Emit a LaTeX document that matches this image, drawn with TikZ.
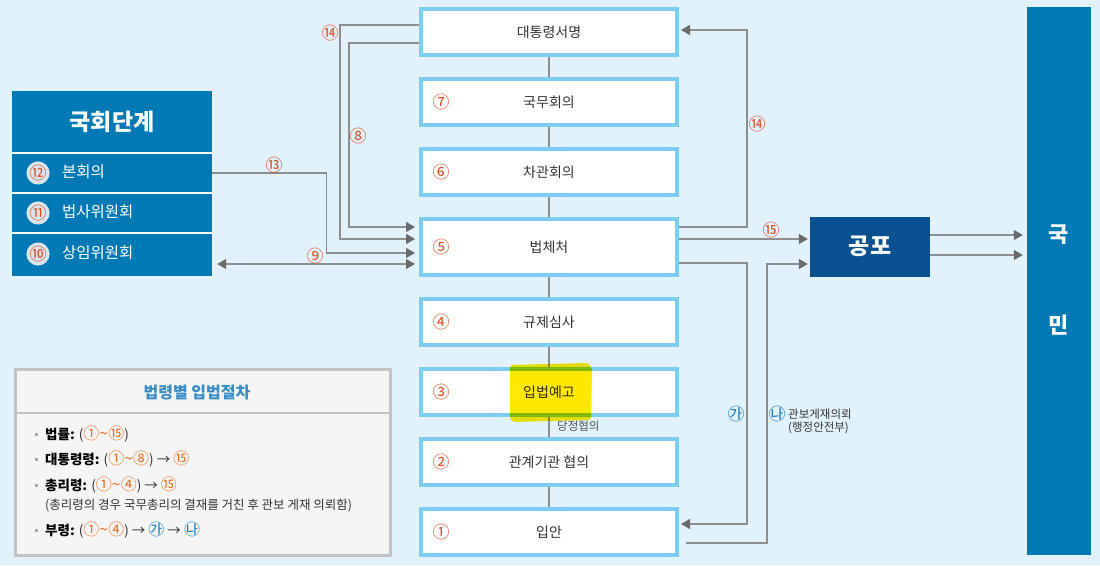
\documentclass[tikz,border=0pt]{standalone}
\usepackage{fontspec}
\setmainfont{Noto Sans CJK KR}
\usetikzlibrary{arrows.meta}
\definecolor{bg}{HTML}{E2F2FC}
\definecolor{bxb}{HTML}{7ECCF1}
\definecolor{dblue}{HTML}{0079B4}
\definecolor{navy}{HTML}{0A5192}
\definecolor{numred}{HTML}{E5461C}
\definecolor{lng}{HTML}{8E8E8E}
\definecolor{arg}{HTML}{6A6A6A}
\definecolor{lgb}{HTML}{C3C3C3}
\definecolor{lgf}{HTML}{F5F5F5}
\definecolor{lgt}{HTML}{3A8DC4}
\definecolor{numblue}{HTML}{1C7EC0}
\definecolor{txt}{HTML}{333333}
\definecolor{hl}{HTML}{FFE800}
\definecolor{disc}{HTML}{D8E5ED}
\definecolor{numor}{HTML}{F26B1D}
\tikzset{
  stepbox/.style={draw=bxb, line width=4pt, fill=white, minimum width=256pt,
    minimum height=46pt, inner sep=0pt, font=\fontsize{14}{16}\selectfont, text=txt},
  conn/.style={draw=lng, line width=1.3pt},
  arr/.style={-{Triangle[length=9pt,width=10pt,color=arg]}},
  darr/.style={{Triangle[length=9pt,width=10pt,color=arg]}-{Triangle[length=9pt,width=10pt,color=arg]}},
  num/.style={text=numred, font=\fontsize{17}{19}\selectfont, inner sep=0pt},
  rowbox/.style={fill=dblue, minimum width=200pt, minimum height=40pt, inner sep=0pt},
  rowtxt/.style={text=white, font=\fontsize{15.5}{17}\selectfont, anchor=west, inner sep=0pt},
  disknum/.style={circle, fill=disc, minimum size=21pt, inner sep=0pt, text=numred, font=\fontsize{17}{19}\selectfont},
  lgitem/.style={anchor=west, inner sep=0pt, font=\fontsize{13.5}{15}\selectfont, text=black},
  bul/.style={fill=gray!70, minimum size=3pt, inner sep=0pt},
}
\newcommand{\on}[1]{{\color{numor}\mdseries\fontsize{16}{17}\selectfont #1}}
\newcommand{\bn}[1]{{\color{numblue}\mdseries\fontsize{16}{17}\selectfont #1}}
\newcommand{\gp}[1]{{\color{txt}\mdseries #1}}
\begin{document}
\begin{tikzpicture}[x=1pt,y=-1pt]
\fill[bg] (0,0) rectangle (1100,565);
\useasboundingbox (0,0) rectangle (1100,565);

% central steps
\node[stepbox] (s1) at (549,32) {대통령서명};
\node[stepbox] (s2) at (549,102) {국무회의};
\node[stepbox] (s3) at (549,172) {차관회의};
\node[stepbox, minimum height=56pt] (s5) at (549,247) {법체처};
\node[stepbox] (s6) at (549,322) {규제심사};
\node[stepbox] (s7) at (549,392) {입법예고};
\node[stepbox] (s8) at (549,462) {관계기관 협의};
\node[stepbox] (s9) at (549,532) {입안};

\node[num] (n7) at (441,102) {⑦};
\node[num] (n6) at (441,172) {⑥};
\node[num] (n5) at (441,247) {⑤};
\node[num] (n4) at (441,322) {④};
\node[num] (n3) at (441,392) {③};
\node[num] (n2) at (441,462) {②};
\node[num] (n1) at (441,532) {①};

\foreach \a/\b in {s1/s2,s2/s3,s3/s5,s5/s6,s6/s7,s7/s8,s8/s9}
  \draw[conn] (\a.south) -- (\b.north);

\node[anchor=west, inner sep=0pt, text=txt!85, font=\fontsize{11.5}{13}\selectfont] (dj) at (557,426) {당정협의};

% 국회단계
\node[rowbox, minimum height=62pt] (ht) at (112,122) {};
\node[text=white, font=\fontsize{23}{25}\selectfont\bfseries] (htt) at (112,122) {국회단계};
\node[rowbox] (r12) at (112,173) {};
\node[rowbox] (r11) at (112,213) {};
\node[rowbox, minimum height=43pt] (r10) at (112,254.5) {};
\draw[white, line width=1.3pt] (12,153) -- (212,153) (12,193) -- (212,193) (12,233) -- (212,233);
\node[disknum] (d12) at (38,173) {⑫};
\node[disknum] (d11) at (38,213) {⑪};
\node[disknum] (d10) at (38,254) {⑩};
\node[rowtxt] (t12) at (62,172) {본회의};
\node[rowtxt] (t11) at (62,212) {법사위원회};
\node[rowtxt] (t10) at (62,253) {상임위원회};

% 공포, 국민
\node[fill=navy, minimum width=120pt, minimum height=60pt, inner sep=0pt] (gp) at (870,247) {};
\node[text=white, font=\fontsize{23}{25}\selectfont\bfseries] (gpt) at (870,246) {공포};
\node[fill=dblue, minimum width=64pt, minimum height=548pt, inner sep=0pt] (km) at (1059,281) {};
\node[text=white, font=\fontsize{22}{24}\selectfont\bfseries] (k1) at (1059,235) {국};
\node[text=white, font=\fontsize{22}{24}\selectfont\bfseries] (k2) at (1059,325) {민};

% left connectors
\draw[conn, arr, shorten >=4pt] ([yshift=7pt]s1.west) -- ++(-79,0) |- ([yshift=8pt]s5.west);
\draw[conn, arr, shorten >=4pt] ([yshift=-11pt]s1.west) -- ++(-70,0) |- ([yshift=20pt]s5.west);
\draw[conn, arr, shorten >=4pt] (r12.east) -- ++(114,0) |- ([yshift=-6pt]s5.west);
\coordinate (k9) at ([yshift=-17pt]s5.west);
\draw[conn, darr, shorten >=4pt, shorten <=5pt] (k9 -| r10.east) -- (k9);
\node[num] (l14a) at (330,33) {⑭};
\node[num] (l8) at (358,136) {⑧};
\node[num] (l13) at (274,165) {⑬};
\node[num] (l9) at (315,256) {⑨};

% right connectors
\draw[conn, arr, shorten >=2pt] ([yshift=20pt]s5.east) -- ++(68,0) |- ([yshift=2pt]s1.east);
\coordinate (k15) at ([yshift=8pt]s5.east);
\draw[conn, arr, shorten >=2pt] (k15) -- (k15 -| gp.west);
\draw[conn, arr, shorten >=2pt] ([yshift=-16pt]s5.east) -- ++(68,0) |- ([yshift=8pt]s9.east);
\draw[conn, arr, shorten >=2pt] ([xshift=7pt,yshift=-11pt]s9.east) -- ++(81,0) |- ([yshift=-17pt]gp.west);
\coordinate (g1) at ([yshift=12pt]gp.east);
\coordinate (g2) at ([yshift=-8pt]gp.east);
\draw[conn, arr, shorten >=4pt] (g1) -- (g1 -| km.west);
\draw[conn, arr, shorten >=4pt] (g2) -- (g2 -| km.west);
\node[num] (l14b) at (757,124) {⑭};
\node[num] (l15) at (771,230) {⑮};
\node[num, text=numblue] (lga) at (736,414) {㉮};
\node[num, text=numblue] (lna) at (777,414) {㉯};
\node[anchor=west, inner sep=0pt, text=txt, font=\fontsize{11.5}{13}\selectfont] (gb1) at (788,414) {관보게재의뢰};
\node[anchor=west, inner sep=0pt, text=txt, font=\fontsize{11.5}{13}\selectfont] (gb2) at (788,428) {(행정안전부)};

% legend
\node[draw=lgb, line width=3pt, fill=lgf, minimum width=375pt, minimum height=186pt, inner sep=0pt] (lg) at (202.5,462) {};
\draw[lgb, line width=1.2pt] (lg.west |- 0,413) -- (lg.east |- 0,413);
\node[text=lgt, font=\fontsize{16}{18}\selectfont\bfseries] (lgt) at (197,393) {법령별 입법절차};
\node[bul] (b1) at (36,434) {};
\node[bul] (b2) at (36,459) {};
\node[bul] (b3) at (36,485) {};
\node[bul] (b4) at (36,530) {};
\node[lgitem] (i1) at (45,434) {\bfseries 법률: \gp{(}\on{①\textasciitilde⑮}\gp{)}};
\node[lgitem] (i2) at (45,459) {\bfseries 대통령령: \gp{(}\on{①\textasciitilde⑧}\gp{) → }\on{⑮}};
\node[lgitem] (i3) at (45,485) {\bfseries 총리령: \gp{(}\on{①\textasciitilde④}\gp{) → }\on{⑮}};
\node[lgitem, text=txt, font=\fontsize{12.5}{14}\selectfont] (i3n) at (45,506) {(총리령의 경우 국무총리의 결재를 거친 후 관보 게재 의뢰함)};
\node[lgitem] (i4) at (45,530) {\bfseries 부령: \gp{(}\on{①\textasciitilde④}\gp{) → }\bn{㉮}\gp{ → }\bn{㉯}};

% highlight
\begin{scope}[blend mode=multiply]
\fill[hl, rounded corners=3pt] (510,365) -- (588,363) -- (592,368) -- (591,420) -- (512,422) -- (510,418) -- cycle;
\end{scope}
\end{tikzpicture}
\end{document}
